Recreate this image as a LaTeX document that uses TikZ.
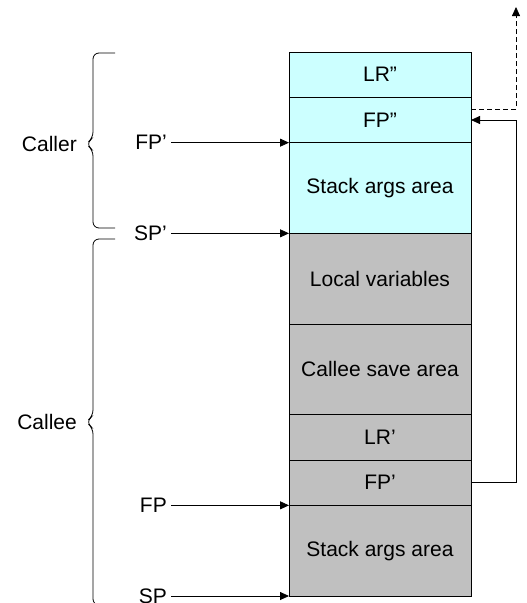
\documentclass[tikz,border=0pt]{standalone}
\usepackage{fontspec}
\setmainfont{Liberation Sans}
\usetikzlibrary{arrows.meta,positioning}
\definecolor{callerfill}{HTML}{CCFFFF}
\definecolor{calleefill}{HTML}{C0C0C0}

\begin{document}
\begin{tikzpicture}[x=1pt,y=-1pt,
    cell/.style={draw,line width=1pt,minimum width=182pt,inner sep=0pt,outer sep=0pt,
      font=\fontsize{21}{25}\selectfont},
    one/.style={cell,minimum height=45.33pt},
    two/.style={cell,minimum height=90.67pt},
    up/.style={fill=callerfill},
    dn/.style={fill=calleefill},
    ptr/.style={draw,line width=0.8pt,-{Triangle[length=9pt,width=8pt]}},
    reg/.style={inner sep=4pt,font=\fontsize{21}{25}\selectfont},
    brc/.style={draw,line width=0.8pt,rounded corners=6pt},
    side/.style={anchor=east,inner sep=2pt,font=\fontsize{21}{25}\selectfont}
  ]
  \useasboundingbox (0,0) rectangle (527,603);
  %% caller frame
  \node[one,up] (lr2) at (380,74.67) {LR”};
  \node[one,up,below=0pt of lr2] (fp2) {FP”};
  \node[two,up,below=0pt of fp2] (sa2) {Stack args area};
  %% callee frame
  \node[two,dn,below=0pt of sa2] (lv) {Local variables};
  \node[two,dn,below=0pt of lv] (cs) {Callee save area};
  \node[one,dn,below=0pt of cs] (lr1) {LR’};
  \node[one,dn,below=0pt of lr1] (fp1) {FP’};
  \node[two,dn,below=0pt of fp1] (sa1) {Stack args area};
  %% frame and stack pointers
  \foreach \n/\t/\c in {fpr/FP’/fp2,spr/SP’/sa2,fpe/FP/fp1,spe/SP/sa1} {
    \node[reg,left=118pt of \c.south west] (\n) {\t};
    \draw[ptr] (\n.east) -- (\c.south west);
  }
  %% saved frame pointer chain
  \coordinate (ret) at (516,7);
  \draw[ptr,dash pattern=on 5pt off 3pt] ([yshift=11pt]fp2.east) -| (ret);
  \draw[ptr] (fp1.east) -- ++(45,0) |- (fp2.east);
  %% braces
  \draw[brc] (115,53) -- (93,53) -- (93,138) -- (86,144) -- (93,150) -- (93,228) -- (115,228);
  \draw[brc] (115,239) -- (93,239) -- (93,416) -- (86,422) -- (93,428) -- (93,605) -- (115,605);
  \node[side] (caller) at (79,144) {Caller};
  \node[side] (callee) at (79,422) {Callee};
\end{tikzpicture}
\end{document}
